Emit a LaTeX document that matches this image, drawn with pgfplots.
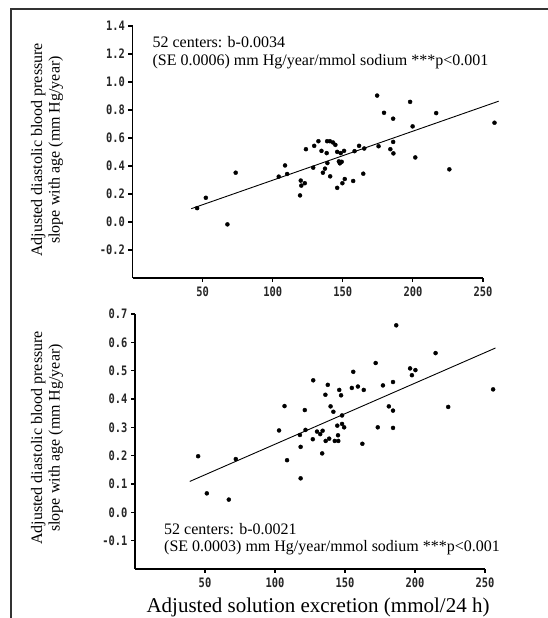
\documentclass[border=0pt]{standalone}
\usepackage{fontspec}
\setmainfont{Liberation Serif}
\newfontfamily\tickfont[FakeStretch=0.8]{DejaVu Sans Mono}
\usepackage{pgfplots}
\pgfplotsset{compat=1.18}

% shared look of both panels
\pgfplotsset{
  sodium/.style={
    scale only axis, clip=false,
    axis lines*=left,
    axis line style={line width=1.2pt},
    xmin=0, xmax=250,
    xtick={50,100,150,200,250},
    xticklabels={50,100,150,200,250},
    tick align=outside,
    major tick length=4pt,
    tick style={line width=1.1pt, black},
    ticklabel style={font=\tickfont\bfseries\fontsize{13}{13}\selectfont, black!85},
    xticklabel style={yshift=-1pt},
    ylabel style={align=center, anchor=center, font=\fontsize{16}{17.5}\selectfont},
  },
  dots/.style={only marks, mark=*, mark size=2pt, black},
  fit/.style={no marks, black, line width=0.9pt},
}

\pgfplotstableread{
x y
46.1 0.099
52.3 0.173
67.7 -0.017
73.6 0.352
104.3 0.324
108.8 0.404
110.3 0.343
119.5 0.190
120.0 0.296
120.4 0.260
122.9 0.277
123.7 0.520
128.9 0.388
129.6 0.544
132.6 0.577
134.8 0.508
135.8 0.352
137.3 0.381
138.5 0.492
138.8 0.577
139.0 0.421
140.8 0.577
141.0 0.326
143.0 0.568
144.7 0.551
146.0 0.244
146.0 0.501
147.2 0.433
147.9 0.419
148.5 0.492
149.2 0.430
149.7 0.277
150.9 0.508
151.4 0.307
157.4 0.293
158.4 0.506
161.6 0.544
164.6 0.345
165.3 0.525
174.5 0.903
175.5 0.541
179.4 0.780
183.9 0.520
185.9 0.738
185.9 0.572
186.1 0.490
198.0 0.858
199.8 0.683
201.7 0.461
216.6 0.778
226.0 0.376
258.2 0.709
}\topdata

\pgfplotstableread{
x y
45.1 0.198
51.3 0.067
67.0 0.045
72.0 0.188
102.9 0.289
106.8 0.375
108.6 0.184
117.8 0.273
118.3 0.120
118.3 0.231
121.3 0.361
121.8 0.291
127.3 0.466
127.0 0.258
130.0 0.285
132.3 0.276
133.7 0.208
134.0 0.288
136.0 0.415
136.2 0.252
137.7 0.450
138.7 0.260
139.7 0.374
141.7 0.355
142.7 0.252
144.5 0.306
145.0 0.272
145.2 0.252
145.9 0.432
147.2 0.413
147.9 0.312
147.9 0.342
149.4 0.300
154.9 0.439
155.9 0.496
159.2 0.444
162.4 0.242
163.4 0.432
171.9 0.527
173.4 0.300
177.1 0.448
181.3 0.374
184.3 0.460
184.3 0.359
184.3 0.298
186.6 0.660
196.5 0.508
197.8 0.484
200.3 0.502
214.7 0.562
223.7 0.372
255.8 0.434
}\bottomdata

\begin{document}
\begin{tikzpicture}
\path[use as bounding box] (0pt,0pt) rectangle (548pt,618pt);
\draw[line width=1.2pt, black!80] (11pt,0pt) -- (11pt,609pt) -- (548pt,609pt);

% upper panel
\begin{axis}[sodium,
    at={(132.5pt,340pt)}, anchor=south west,
    width=350.5pt, height=252pt,
    ymin=-0.4, ymax=1.4,
    ytick={-0.2,0,0.2,0.4,0.6,0.8,1.0,1.2,1.4},
    yticklabels={-0.2,0.0,0.2,0.4,0.6,0.8,1.0,1.2,1.4},
    ylabel={Adjusted diastolic blood pressure\\slope with age (mm Hg/year)},
    ylabel style={at={(axis description cs:-0.244,0.508)}},
]
\addplot[dots] table {\topdata};
\addplot[fit] coordinates {(41.9,0.095) (261.2,0.863)};
\end{axis}

% lower panel
\begin{axis}[sodium,
    at={(135pt,49pt)}, anchor=south west,
    width=350pt, height=255pt,
    ymin=-0.2, ymax=0.7,
    ytick={-0.1,0,0.1,0.2,0.3,0.4,0.5,0.6,0.7},
    yticklabels={-0.1,0.0,0.1,0.2,0.3,0.4,0.5,0.6,0.7},
    ylabel={Adjusted diastolic blood pressure\\slope with age (mm Hg/year)},
    ylabel style={at={(axis description cs:-0.251,0.514)}},
]
\addplot[dots] table {\bottomdata};
\addplot[fit] coordinates {(39.1,0.109) (257.5,0.580)};
\end{axis}

\begin{scope}[font=\fontsize{16}{18}\selectfont]
\node[anchor=west, inner sep=0pt] at (152.4pt,576.3pt) {52 centers: b-0.0034};
\node[anchor=west, inner sep=0pt] at (152.4pt,556.3pt) {(SE 0.0006) mm Hg/year/mmol sodium ***p<0.001};
\node[anchor=west, inner sep=0pt] at (164pt,89pt) {52 centers: b-0.0021};
\node[anchor=west, inner sep=0pt] at (164pt,70pt) {(SE 0.0003) mm Hg/year/mmol sodium ***p<0.001};
\end{scope}
\node[font=\fontsize{21}{24}\selectfont] at (318pt,11pt) {Adjusted solution excretion (mmol/24 h)};
\end{tikzpicture}
\end{document}
